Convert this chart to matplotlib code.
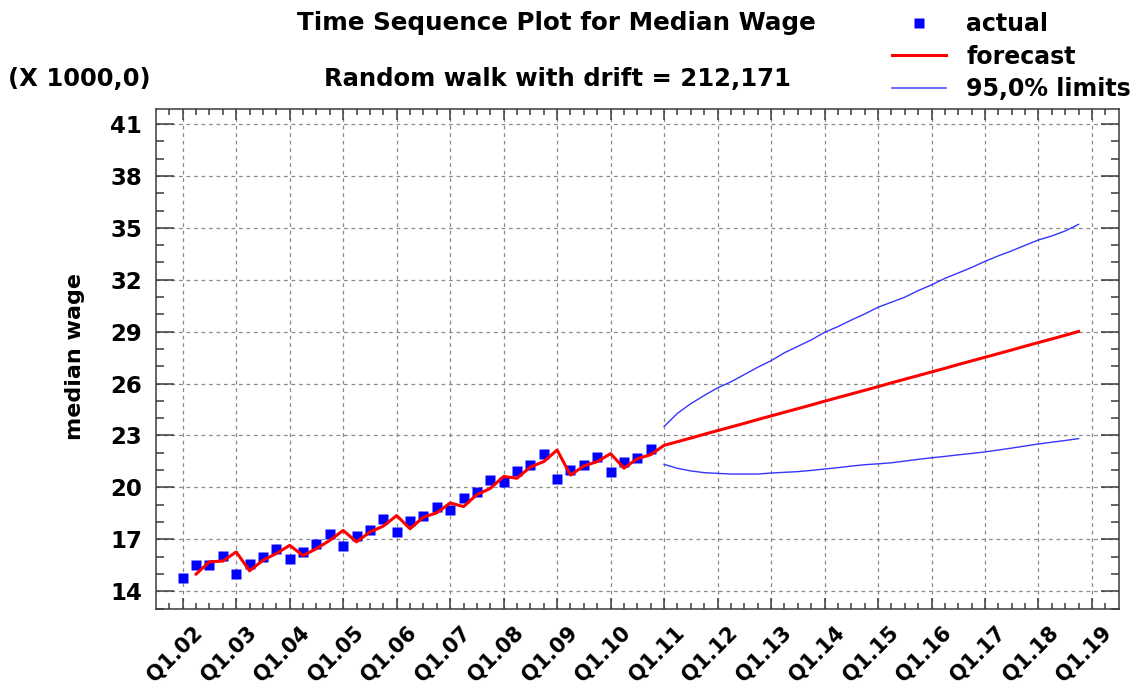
import matplotlib
matplotlib.use('Agg')
import matplotlib.pyplot as plt
import matplotlib.transforms as mtransforms
from matplotlib.lines import Line2D
import numpy as np

# ---------------- data (thousands) ----------------
tick_labels = ['Q1.02', 'Q1.03', 'Q1.04', 'Q1.05', 'Q1.06', 'Q1.07', 'Q1.08', 'Q1.09', 'Q1.10',
               'Q1.11', 'Q1.12', 'Q1.13', 'Q1.14', 'Q1.15', 'Q1.16', 'Q1.17', 'Q1.18', 'Q1.19']

# actual quarterly values, Q1.02 .. Q4.10
actual = [14.78, 15.49, 15.53, 16.06,
          14.97, 15.58, 15.97, 16.44,
          15.85, 16.25, 16.73, 17.30,
          16.64, 17.21, 17.55, 18.16,
          17.40, 18.07, 18.32, 18.89,
          18.68, 19.37, 19.73, 20.42,
          20.32, 20.97, 21.28, 21.95,
          20.50, 21.03, 21.28, 21.74,
          20.90, 21.45, 21.68, 22.21]

# one-step-ahead forecasts, Q2.02 .. Q4.10
fitted = [14.99, 15.70, 15.74, 16.27,
          15.18, 15.79, 16.18, 16.65,
          16.06, 16.46, 16.94, 17.51,
          16.85, 17.42, 17.76, 18.37,
          17.61, 18.28, 18.53, 19.10,
          18.89, 19.58, 19.94, 20.63,
          20.53, 21.18, 21.49, 22.16,
          20.71, 21.24, 21.49, 21.95,
          21.11, 21.66, 21.89]

# forecasts Q1.11 .. Q4.18
forecast = [22.43, 22.64, 22.85, 23.07, 23.28, 23.49, 23.70, 23.92,
            24.13, 24.34, 24.55, 24.76, 24.98, 25.19, 25.40, 25.61,
            25.82, 26.04, 26.25, 26.46, 26.67, 26.88, 27.10, 27.31,
            27.52, 27.73, 27.94, 28.16, 28.37, 28.58, 28.79, 29.01]

upper = [23.52, 24.28, 24.84, 25.31, 25.75, 26.10, 26.52, 26.94,
         27.32, 27.78, 28.15, 28.52, 28.96, 29.29, 29.67, 30.02,
         30.41, 30.70, 30.99, 31.37, 31.70, 32.08, 32.39, 32.71,
         33.06, 33.38, 33.67, 33.99, 34.30, 34.53, 34.82, 35.20]

lower = [21.33, 21.10, 20.95, 20.85, 20.81, 20.77, 20.77, 20.77,
         20.83, 20.87, 20.91, 20.98, 21.06, 21.14, 21.23, 21.31,
         21.36, 21.42, 21.52, 21.62, 21.71, 21.79, 21.88, 21.96,
         22.05, 22.16, 22.27, 22.39, 22.51, 22.61, 22.71, 22.82]

y_ticks = [14, 17, 20, 23, 26, 29, 32, 35, 38, 41]

# ---------------- figure ----------------
plt.rcParams['font.family'] = ['DejaVu Sans']
W, H = 1136, 688
fig = plt.figure(figsize=(W / 100, H / 100), dpi=100)
ax_l, ax_r, ax_t, ax_b = 156, 1118.7, 109.3, 608.5
ax = fig.add_axes([ax_l / W, 1 - ax_b / H, (ax_r - ax_l) / W, (ax_b - ax_t) / H])

x_act = np.arange(len(actual))
x_fit = np.arange(1, 1 + len(fitted))
x_fc = np.arange(len(actual), len(actual) + len(forecast))

ax.set_axisbelow(True)
ax.plot(x_act, actual, 's', color='#0000ff', markersize=7.2, mec='none', zorder=3)
ax.plot(np.concatenate([x_fit, x_fc]), fitted + forecast, color='#ff0000', lw=2.2, zorder=4)
ax.plot(x_fc, upper, color='#3535ff', lw=1.0, zorder=4)
ax.plot(x_fc, lower, color='#3535ff', lw=1.0, zorder=4)

ax.set_xlim(-2, 4 * (len(tick_labels) - 1) + 2)
ax.set_ylim(13.15, 41.85)

ax.set_xticks(np.arange(0, 4 * len(tick_labels), 4))
ax.set_xticklabels(tick_labels)
ax.set_xticks(np.arange(-1, 4 * (len(tick_labels) - 1) + 2), minor=True)
ax.set_yticks(y_ticks)
ax.set_yticks(np.arange(13, 42, 1), minor=True)

ax.grid(True, which='major', color='#8a8a8a', linestyle=(0, (3, 3)), linewidth=0.9)

spine_col = '#3a3a3a'
for s in ax.spines.values():
    s.set_color(spine_col)
    s.set_linewidth(1.1)

ax.tick_params(which='both', direction='in', top=True, right=True, color=spine_col, width=1.1)
ax.tick_params(axis='y', which='major', length=13, pad=10, labelsize=16.5)
ax.tick_params(axis='y', which='minor', length=5.8)
ax.tick_params(axis='x', which='major', length=8, pad=0, labelsize=15)
ax.tick_params(axis='x', which='minor', length=4)

for lab in ax.get_yticklabels():
    lab.set_fontweight('bold')
offset = mtransforms.ScaledTranslation(0.17, -0.21, fig.dpi_scale_trans)
for lab in ax.get_xticklabels():
    lab.set_fontweight('bold')
    lab.set_rotation(45)
    lab.set_ha('right')
    lab.set_va('center')
    lab.set_rotation_mode('anchor')
    lab.set_transform(lab.get_transform() + offset)

# texts
fig.text(556 / W, 1 - 23 / H, 'Time Sequence Plot for Median Wage', ha='center', va='center',
         fontsize=17.7, fontweight='bold')
fig.text(557 / W, 1 - 79 / H, 'Random walk with drift = 212,171', ha='center', va='center',
         fontsize=17.5, fontweight='bold')
fig.text(8 / W, 1 - 79 / H, '(X 1000,0)', ha='left', va='center', fontsize=17.5, fontweight='bold')
fig.text(75 / W, 1 - 357 / H, 'median wage', rotation=90, ha='center', va='center',
         fontsize=16, fontweight='bold')

handles = [Line2D([], [], marker='s', ls='none', color='#0000ff', markersize=7.2, mec='none'),
           Line2D([], [], color='#ff0000', lw=2.2),
           Line2D([], [], color='#5050ff', lw=1.2)]
fig.legend(handles, ['actual', 'forecast', '95,0% limits'], loc='upper left',
           bbox_to_anchor=(892 / W, 1 - 12 / H), frameon=False,
           prop={'weight': 'bold', 'size': 17}, handlelength=2.29, handletextpad=0.85,
           labelspacing=0.37, borderpad=0, borderaxespad=0, numpoints=1)

fig.savefig('out.png', dpi=100)
